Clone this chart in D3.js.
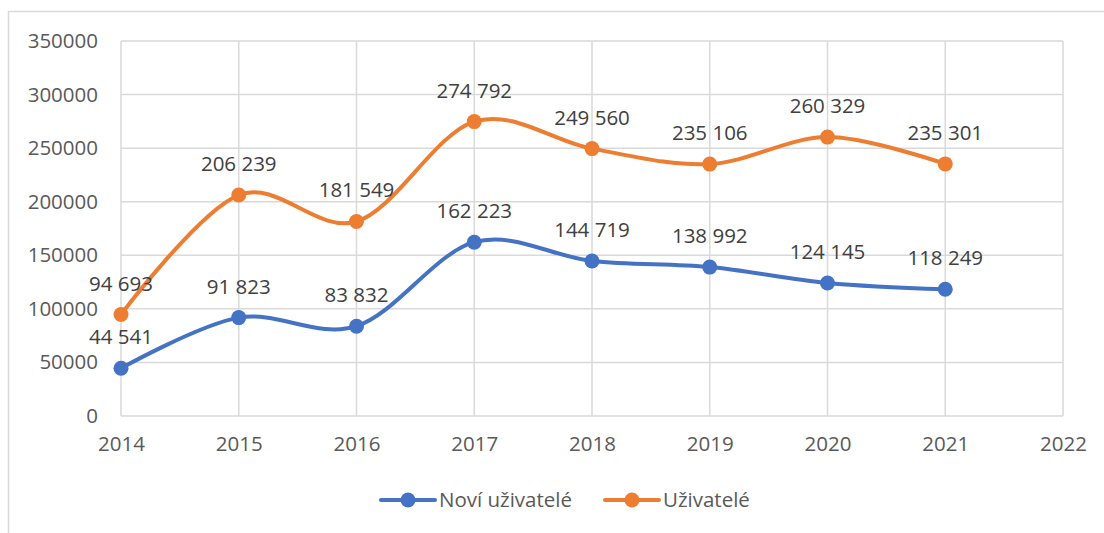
<!DOCTYPE html>
<html>
<head>
<meta charset="utf-8">
<script src="https://cdn.jsdelivr.net/npm/d3@7"></script>
<style>
  body { margin: 0; background: #fff; }
  text { font-family: "Open Sans", "Noto Sans", sans-serif; }
</style>
</head>
<body>
<div id="chart"></div>
<script>
// --- Data ---
const YEARS = [2014, 2015, 2016, 2017, 2018, 2019, 2020, 2021];
const NEW_USERS = [44541, 91823, 83832, 162223, 144719, 138992, 124145, 118249];
const USERS = [94693, 206239, 181549, 274792, 249560, 235106, 260329, 235301];
const X_TICKS = [2014, 2015, 2016, 2017, 2018, 2019, 2020, 2021, 2022];
const Y_TICKS = [0, 50000, 100000, 150000, 200000, 250000, 300000, 350000];

const SERIES = [
    { name: 'Noví uživatelé', values: NEW_USERS, color: '#4472C4' },
    { name: 'Uživatelé', values: USERS, color: '#ED7D31' }
];

const W = 1104, H = 533;
const margin = { top: 41, right: 41, bottom: 117, left: 121 };
const width = W - margin.left - margin.right;
const height = H - margin.top - margin.bottom;

const root = d3.select('#chart').append('svg')
    .attr('width', W)
    .attr('height', H);

// outer chart border (only top/left visible in the frame)
root.append('rect')
    .attr('x', 8.5).attr('y', 11.5)
    .attr('width', 1200).attr('height', 600)
    .attr('fill', 'none')
    .attr('stroke', '#d9d9d9')
    .attr('stroke-width', 1.5);

const svg = root.append('g')
    .attr('transform', `translate(${margin.left},${margin.top})`);

// --- Scales ---
const x = d3.scaleLinear().domain([2014, 2022]).range([0, width]);
const y = d3.scaleLinear().domain([0, 350000]).range([height, 0]);

// --- Grid ---
svg.append('g')
    .selectAll('line.h')
    .data(Y_TICKS)
    .enter().append('line')
    .attr('x1', 0).attr('x2', width)
    .attr('y1', d => y(d)).attr('y2', d => y(d))
    .attr('stroke', '#d9d9d9').attr('stroke-width', 1.5);

svg.append('g')
    .selectAll('line.v')
    .data(X_TICKS)
    .enter().append('line')
    .attr('x1', d => x(d)).attr('x2', d => x(d))
    .attr('y1', 0).attr('y2', height)
    .attr('stroke', '#d9d9d9').attr('stroke-width', 1.5);

// --- Axes ---
const yAxis = svg.append('g')
    .call(d3.axisLeft(y).tickValues(Y_TICKS).tickFormat(d3.format('d')).tickSize(0).tickPadding(23));
yAxis.select('.domain').remove();
yAxis.selectAll('text')
    .attr('fill', '#595959')
    .style('font-size', '20.5px');

const xAxis = svg.append('g')
    .attr('transform', `translate(0,${height})`)
    .call(d3.axisBottom(x).tickValues(X_TICKS).tickFormat(d3.format('d')).tickSize(0).tickPadding(20));
xAxis.select('.domain').remove();
xAxis.selectAll('text')
    .attr('fill', '#595959')
    .style('font-size', '20.5px');

// --- Lines ---
const fmt = d3.formatLocale({ decimal: ',', thousands: ' ', grouping: [3], currency: ['', ''] }).format(',d');

const lineGen = d3.line()
    .x((d, i) => x(YEARS[i]))
    .y(d => y(d))
    .curve(d3.curveCatmullRom.alpha(0));

SERIES.forEach(s => {
    svg.append('path')
        .datum(s.values)
        .attr('d', lineGen)
        .attr('fill', 'none')
        .attr('stroke', s.color)
        .attr('stroke-width', 4)
        .attr('stroke-linecap', 'round');

    svg.selectAll(null)
        .data(s.values)
        .enter().append('circle')
        .attr('cx', (d, i) => x(YEARS[i]))
        .attr('cy', d => y(d))
        .attr('r', 7.5)
        .attr('fill', s.color);

    svg.selectAll(null)
        .data(s.values)
        .enter().append('text')
        .attr('x', (d, i) => x(YEARS[i]))
        .attr('y', d => y(d) - 24)
        .attr('text-anchor', 'middle')
        .attr('fill', '#404040')
        .style('font-size', '20.5px')
        .text(d => fmt(d));
});

// --- Legend ---
const legendX = [381, 605];
SERIES.forEach((s, i) => {
    const g = root.append('g').attr('transform', `translate(${legendX[i]},500)`);
    g.append('line')
        .attr('x1', 0).attr('x2', 54)
        .attr('y1', 0).attr('y2', 0)
        .attr('stroke', s.color).attr('stroke-width', 4)
        .attr('stroke-linecap', 'round');
    g.append('circle')
        .attr('cx', 27).attr('cy', 0).attr('r', 7.5)
        .attr('fill', s.color);
    g.append('text')
        .attr('x', 58).attr('y', 0).attr('dy', '0.35em')
        .attr('fill', '#595959')
        .style('font-size', '20.5px')
        .text(s.name);
});
</script>
</body>
</html>
